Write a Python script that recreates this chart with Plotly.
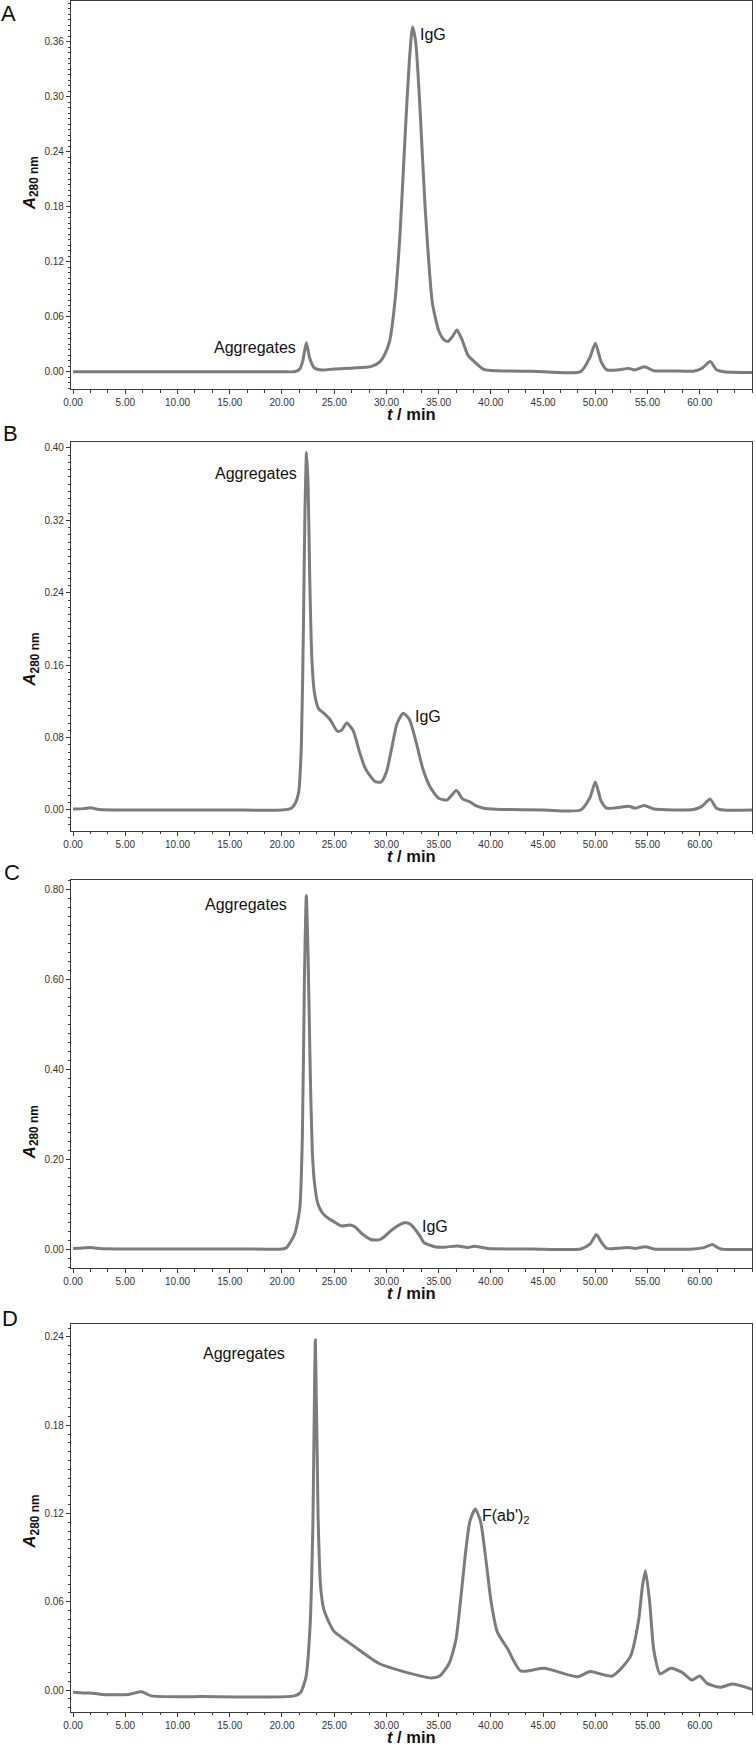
import plotly.graph_objects as go

# ---------------- data ----------------
t_A = [0, 5, 10, 15, 20, 21.2, 21.7, 22.0, 22.33, 22.65, 23.1, 23.9, 25.0, 26.9, 28.5, 29.3,
       29.8, 30.3, 30.8, 31.3, 31.8, 32.2, 32.5, 32.8, 33.2, 33.7, 34.4, 35.0, 35.5, 35.9, 36.3,
       36.75, 37.2, 37.8, 38.4, 39.3, 40.6, 44, 48.6, 49.5, 50.0, 50.55, 51.1, 52.2, 53.2, 53.8,
       54.7, 55.6, 57.5, 59.4, 60.2, 61.0, 61.6, 62.3, 65]
a_A = [0, 0, 0, 0, 0, 0, 0.003, 0.012, 0.0316, 0.015, 0.004, 0.0018, 0.003, 0.004, 0.0055, 0.01,
       0.018, 0.033, 0.075, 0.15, 0.26, 0.34, 0.376, 0.36, 0.29, 0.18, 0.075, 0.045, 0.035, 0.033, 0.038,
       0.0455, 0.036, 0.018, 0.011, 0.0025, 0.001, 0.0005, 0.0, 0.016, 0.031, 0.011, 0.002, 0.002, 0.0036, 0.0018,
       0.0055, 0.001, 0.0008, 0.0005, 0.0036, 0.011, 0.002, 0.0, -0.001]

t_B = [0, 1.0, 1.65, 2.5, 5, 10, 15, 20, 20.9, 21.3, 21.6, 21.85, 22.05, 22.2, 22.35, 22.5, 22.65,
       22.85, 23.1, 23.5, 24.0, 24.6, 25.3, 25.7, 26.2, 26.8, 27.4, 27.9, 28.3, 29.0, 29.5, 30.0, 30.5,
       31.0, 31.6, 32.2, 32.8, 33.5, 34.2, 35.0, 35.8, 36.7, 37.3, 38.0, 38.5, 39.3, 40.5, 45, 48.6,
       49.5, 50.0, 50.55, 51.1, 53.2, 53.8, 54.7, 55.6, 59.4, 60.2, 61.0, 61.6, 62.3, 65]
a_B = [0.001, 0.0015, 0.0025, 0.0005, 0, 0, 0, 0, 0.002, 0.008, 0.02, 0.07, 0.2, 0.33, 0.395, 0.36, 0.26,
       0.17, 0.13, 0.112, 0.107, 0.1, 0.087, 0.088, 0.096, 0.088, 0.065, 0.048, 0.04, 0.031, 0.031, 0.042, 0.068,
       0.095, 0.107, 0.1, 0.077, 0.045, 0.025, 0.013, 0.011, 0.0215, 0.012, 0.009, 0.005, 0.002, 0.0008, 0.0, 0.0,
       0.014, 0.031, 0.01, 0.002, 0.004, 0.002, 0.005, 0.001, 0.0005, 0.004, 0.012, 0.002, 0.0, 0.0]

t_C = [0, 1.0, 1.65, 2.5, 5, 10, 15, 20, 20.4, 21.2, 21.7, 21.95, 22.15, 22.33, 22.5, 22.7, 22.9,
       23.1, 23.45, 23.9, 24.5, 25.0, 25.7, 26.5, 27.0, 27.6, 28.5, 29.3, 29.8, 30.3, 30.8, 31.7, 32.2,
       32.7, 33.2, 33.6, 34.6, 35.5, 36.8, 37.8, 38.4, 39.7, 44, 48.6, 49.5, 50.1, 50.6, 51.1, 53.2,
       53.8, 54.8, 55.6, 59.4, 60.4, 61.2, 61.8, 62.3, 65]
a_C = [0.002, 0.003, 0.004, 0.002, 0.001, 0.001, 0.001, 0.001, 0.003, 0.033, 0.09, 0.25, 0.6, 0.785, 0.65,
       0.4, 0.22, 0.15, 0.1, 0.08, 0.068, 0.061, 0.052, 0.054, 0.05, 0.036, 0.022, 0.021, 0.028, 0.039, 0.048,
       0.059, 0.057, 0.046, 0.03, 0.015, 0.006, 0.005, 0.0075, 0.004, 0.007, 0.002, 0.001, 0.001, 0.012, 0.033,
       0.015, 0.002, 0.004, 0.002, 0.006, 0.001, 0.001, 0.004, 0.011, 0.003, 0.0, 0.0]

t_D = [0, 1.0, 1.65, 2.7, 5.3, 6.55, 7.5, 12.3, 21.2, 21.8, 22.3, 22.7, 22.95, 23.2, 23.45, 23.7,
       24.0, 24.5, 25.0, 26.95, 29.3, 31.4, 34.3, 35.1, 36.0, 36.65, 37.1, 37.6, 38.0, 38.5, 39.0, 39.5,
       40.0, 40.6, 41.6, 42.85, 45.1, 48.3, 49.5, 51.6, 53.35, 54.15, 54.5, 54.8, 55.2, 55.6, 56.2, 57.2,
       58.3, 59.25, 60.0, 60.7, 61.95, 63.1, 65]
a_D = [-0.0016, -0.002, -0.002, -0.003, -0.003, -0.0012, -0.004, -0.0045, -0.004, -0.0015, 0.009, 0.045,
       0.11, 0.238, 0.12, 0.07, 0.055, 0.046, 0.0397, 0.0295, 0.018, 0.013, 0.0082, 0.0095, 0.018, 0.034,
       0.061, 0.095, 0.115, 0.123, 0.115, 0.09, 0.061, 0.0397, 0.028, 0.013, 0.0148, 0.009, 0.0125, 0.0095,
       0.0227, 0.0476, 0.07, 0.081, 0.06, 0.027, 0.011, 0.0148, 0.012, 0.0068, 0.0095, 0.0045, 0.0018, 0.004, 0.0005]

panel_letters = ["A", "B", "C", "D"]
x_ticks = [0, 5, 10, 15, 20, 25, 30, 35, 40, 45, 50, 55, 60]
y_ticks = [[0, 0.06, 0.12, 0.18, 0.24, 0.30, 0.36],
           [0, 0.08, 0.16, 0.24, 0.32, 0.40],
           [0, 0.20, 0.40, 0.60, 0.80],
           [0, 0.06, 0.12, 0.18, 0.24]]
x_range = [-0.2, 65.0]
y_ranges = [[-0.0189, 0.4044], [-0.0229, 0.4066], [-0.042, 0.82], [-0.01475, 0.2488]]
y_minor = [0.006, 0.008, 0.02, 0.006]

# peak labels: (text, t, A, anchor)
labels = [
    [("Aggregates", 21.5, 0.026, "right"), ("IgG", 33.0, 0.368, "left")],
    [("Aggregates", 21.6, 0.372, "right"), ("IgG", 32.5, 0.103, "left")],
    [("Aggregates", 20.7, 0.765, "right"), ("IgG", 33.2, 0.050, "left")],
    [("Aggregates", 20.5, 0.229, "right"), ("F(ab')<sub>2</sub>", 39.0, 0.118, "left")],
]

series = [(t_A, a_A), (t_B, a_B), (t_C, a_C), (t_D, a_D)]

# ---------------- layout geometry ----------------
W, H = 756, 1746
domains_px = [(1, 389), (442, 830.7), (880, 1268.3), (1324, 1711.7)]
letter_px = [(8, 14), (10, 433), (12, 872), (10, 1318)]
ytitle_frac = [0.53, 0.44, 0.35, 0.49]

FONT = "Liberation Sans, Arial, sans-serif"
LINE_COL = "#7c7c7c"
AX_COL = "#3a3a3a"

fig = go.Figure()
annotations = []

for i, (t, a) in enumerate(series):
    n = "" if i == 0 else str(i + 1)
    xa, ya = "x" + n, "y" + n
    fig.add_trace(go.Scatter(x=t, y=a, mode="lines", xaxis=xa, yaxis=ya,
                             line=dict(color=LINE_COL, width=3, shape="spline", smoothing=0.6),
                             showlegend=False, hoverinfo="skip"))
    top, bot = domains_px[i]
    dom = [1 - bot / H, 1 - top / H]
    xax = dict(domain=[0, 1], range=x_range, anchor=ya, tickvals=x_ticks,
               ticktext=[f"{v:.2f}" for v in x_ticks], ticks="outside", ticklen=4, tickwidth=1,
               tickcolor=AX_COL, showline=True, linecolor=AX_COL, linewidth=1.2, mirror=True,
               showgrid=False, zeroline=False, automargin=False,
               tickfont=dict(family=FONT, size=10, color="#333"),
               minor=dict(dtick=5 / 3, tick0=0, ticks="outside", ticklen=2.5, tickcolor=AX_COL, showgrid=False))
    yax = dict(domain=dom, range=y_ranges[i], anchor=xa, tickvals=y_ticks[i],
               ticktext=[f"{v:.2f}" for v in y_ticks[i]], ticks="outside", ticklen=4, tickwidth=1,
               tickcolor=AX_COL, showline=True, linecolor=AX_COL, linewidth=1.2, mirror=True,
               showgrid=False, zeroline=False, automargin=False,
               tickfont=dict(family=FONT, size=10, color="#333"),
               minor=dict(dtick=y_minor[i], tick0=0, ticks="outside", ticklen=2, tickcolor=AX_COL, showgrid=False))
    fig.update_layout(**{"xaxis" + n: xax, "yaxis" + n: yax})

    xd, yd = xa + " domain", ya + " domain"
    # axis titles
    annotations.append(dict(xref=xd, yref=yd, x=0.5, y=-25 / 388, xanchor="center", yanchor="middle",
                            text="<b><i>t</i> / min</b>", showarrow=False,
                            font=dict(family=FONT, size=16.5, color="#111")))
    annotations.append(dict(xref=xd, yref=yd, x=-40 / 681, y=ytitle_frac[i], xanchor="center",
                            yanchor="middle", textangle=-90, text="<b><i>A</i><sub>280 nm</sub></b>",
                            showarrow=False, font=dict(family=FONT, size=17, color="#111")))
    # panel letter
    lx, ly = letter_px[i]
    annotations.append(dict(xref="paper", yref="paper", x=(lx - 71) / 681, y=1 - ly / H,
                            xanchor="center", yanchor="middle", text=panel_letters[i], showarrow=False,
                            font=dict(family=FONT, size=22, color="#111")))
    # peak labels
    for txt, tx, ty, anc in labels[i]:
        annotations.append(dict(xref=xa, yref=ya, x=tx, y=ty, xanchor=anc, yanchor="middle",
                                text=txt, showarrow=False, font=dict(family=FONT, size=16, color="#111")))

fig.update_layout(width=W, height=H, margin=dict(l=71, r=4, t=0, b=0),
                  paper_bgcolor="white", plot_bgcolor="white", annotations=annotations,
                  showlegend=False)

fig.write_html("out.html", config={"displayModeBar": False},
               post_script="document.body.style.margin='0';document.body.style.padding='0';"
                           "document.documentElement.style.overflow='hidden';")
